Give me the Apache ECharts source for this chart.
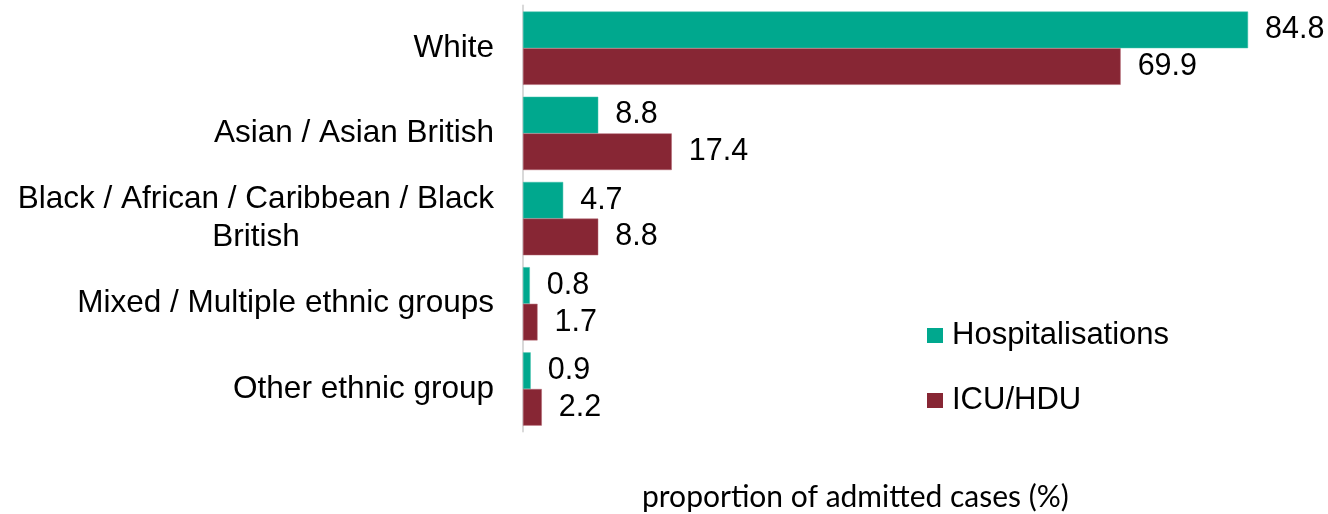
<!DOCTYPE html>
<html>
<head>
<meta charset="utf-8">
<script src="https://cdn.jsdelivr.net/npm/echarts@6/dist/echarts.min.js"></script>
<style>
html,body{margin:0;padding:0;background:#fff;}
#chart{width:1328px;height:514px;}
</style>
</head>
<body>
<div id="chart"></div>
<script>
const categories = [
  'White',
  'Asian / Asian British',
  'Black / African / Caribbean / Black\nBritish',
  'Mixed / Multiple ethnic groups',
  'Other ethnic group'
];
const hospitalisations = [84.8, 8.8, 4.7, 0.8, 0.9];
const icuHdu = [69.9, 17.4, 8.8, 1.7, 2.2];
const seriesNames = ['Hospitalisations', 'ICU/HDU'];
const axisTitle = 'proportion of admitted cases (%)';

const FONT = "'Liberation Sans', Arial, sans-serif";
const chart = echarts.init(document.getElementById('chart'));

const labelStyle = {
  show: true,
  position: 'right',
  distance: 17,
  fontFamily: FONT,
  fontSize: 30.5,
  color: '#000'
};

chart.setOption({
  animation: false,
  backgroundColor: '#fff',
  title: {
    text: axisTitle,
    left: 642,
    top: 482,
    padding: 0,
    textStyle: { fontFamily: "Lato, 'Open Sans', sans-serif", fontSize: 30, fontWeight: 'normal', color: '#000' }
  },
  legend: {
    orient: 'vertical',
    left: 927,
    top: 320,
    padding: 0,
    itemWidth: 16,
    itemHeight: 15,
    itemGap: 34,
    icon: 'rect',
    itemStyle: { borderWidth: 0 },
    textStyle: { fontFamily: FONT, fontSize: 31, color: '#000', lineHeight: 30, padding: [0, 0, 0, 4] },
    data: seriesNames
  },
  grid: { left: 523, top: 5.6, width: 769.5, bottom: 82.4, containLabel: false },
  xAxis: {
    type: 'value',
    min: 0,
    max: 90,
    show: false
  },
  yAxis: {
    type: 'category',
    inverse: true,
    data: categories,
    axisLine: { show: true, lineStyle: { color: '#d9d9d9', width: 2 } },
    axisTick: { show: false },
    splitLine: { show: false },
    axisLabel: {
      margin: 29,
      fontFamily: FONT,
      fontSize: 31.5,
      color: '#000',
      lineHeight: 38,
      formatter: function (v) {
        return v.split('\n').map(function (s) { return '{c|' + s + '}'; }).join('\n');
      },
      rich: {
        c: { align: 'center', fontFamily: FONT, fontSize: 31.5, color: '#000', lineHeight: 38 }
      }
    }
  },
  series: [
    {
      name: seriesNames[0],
      type: 'bar',
      data: hospitalisations,
      barGap: '0%',
      barCategoryGap: '14%',
      itemStyle: { color: '#00A88E', borderColor: '#3fc0aa', borderWidth: 0.5 },
      label: labelStyle
    },
    {
      name: seriesNames[1],
      type: 'bar',
      data: icuHdu,
      barGap: '0%',
      barCategoryGap: '14%',
      itemStyle: { color: '#872634', borderColor: '#b26470', borderWidth: 0.5 },
      label: labelStyle
    }
  ]
});
</script>
</body>
</html>
